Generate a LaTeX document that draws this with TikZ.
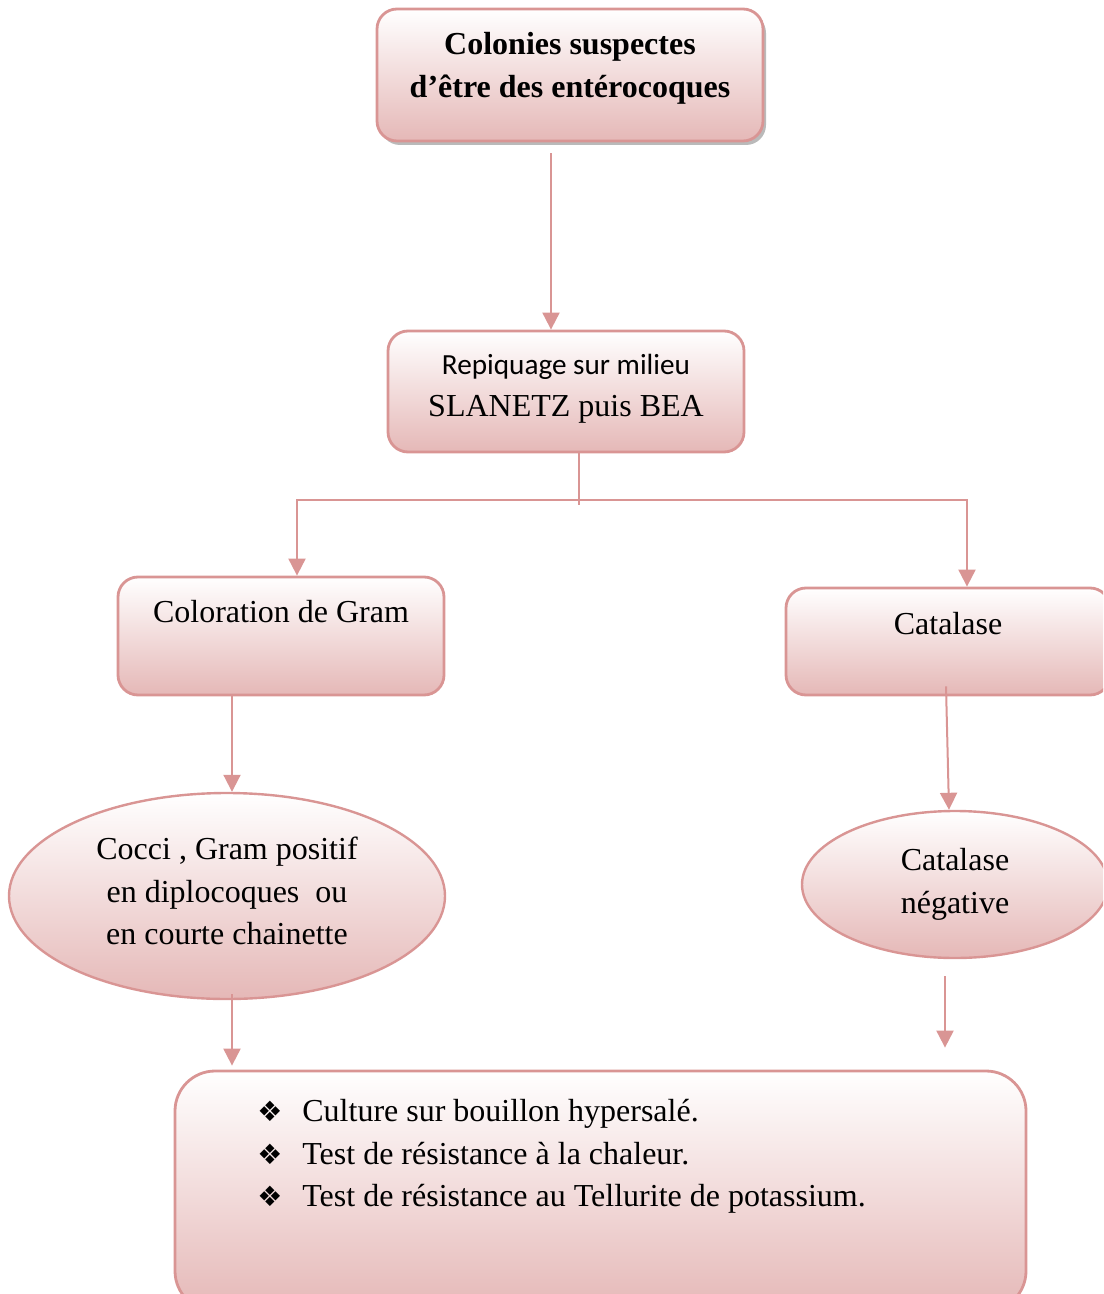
\documentclass[tikz,border=0pt]{standalone}
\usepackage{fontspec}
\setmainfont{Liberation Serif}
\newfontfamily\carlito{Carlito}
\newfontfamily\symfont{DejaVu Sans}
\usepackage{tikz}
\usetikzlibrary{calc}
\usetikzlibrary{arrows.meta}
\usetikzlibrary{shapes.geometric}
\usetikzlibrary{shadows}
\usetikzlibrary{positioning}
\definecolor{rosedraw}{HTML}{D99594}
\definecolor{rosefill}{HTML}{E5B8B7}
\newcommand{\puce}{\makebox[22.5pt][l]{\symfont\fontsize{14}{14}\selectfont ❖}}

\begin{document}
\begin{tikzpicture}[x=0.5pt,y=-0.5pt]
  % some styles
  \tikzset{
    stepbox/.style={
      rectangle,
      rounded corners=10pt,
      draw=rosedraw,
      line width=1.4pt,
      top color=white,
      bottom color=rosefill,
      inner sep=0pt
    }
  }
  \tikzset{stepoval/.style={ellipse,draw=rosedraw,line width=1.2pt,top color=white,bottom color=rosefill,inner sep=0pt,align=center,font=\fontsize{16}{21.25}\selectfont}}
  \tikzset{txt/.style={inner sep=0pt,align=center,font=\fontsize{16}{21.5}\selectfont}}
  \tikzset{link/.style={draw=rosedraw,line width=1pt,-{Triangle[length=8.5pt,width=8.5pt]}}}
  \tikzset{plain/.style={draw=rosedraw,line width=1pt}}

\useasboundingbox (0,0) rectangle (1103,1294);
\clip (0,0) rectangle (1103,1294);

% boxes
\node[stepbox, minimum width=193pt, minimum height=66pt,
      drop shadow={shadow xshift=1.5pt,shadow yshift=-2pt,fill=black!45,opacity=0.6}]
      (colonies) at (570,75) {};
\node[stepbox, minimum width=178pt, minimum height=60.5pt] (repiquage) at (566,391.5) {};
\node[stepbox, minimum width=163pt, minimum height=59pt] (gram) at (281,636) {};
\node[stepbox, minimum width=162pt, minimum height=53.5pt] (catalase) at (948,641.5) {};
\node[stepbox, rounded corners=20pt, minimum width=425.5pt, minimum height=120pt] (tests) at (600.5,1191) {};

% texts
\node[txt, font=\fontsize{16}{21.5}\selectfont\bfseries] (coloniestxt) at ([yshift=3.5pt]colonies.center)
  {Colonies suspectes\\d’être des entérocoques};
\node[txt, font=\fontsize{16}{21}\selectfont] (repiquagetxt) at ([yshift=1.5pt]repiquage.center)
  {{\carlito\fontsize{14.6}{21}\selectfont Repiquage sur milieu}\\SLANETZ puis BEA};
\node[txt, below=12pt of gram.north] (gramtxt) {Coloration de Gram};
\node[txt, below=12.5pt of catalase.north] (catalasetxt) {Catalase};
\node[txt, align=left, anchor=north west, font=\fontsize{16}{21.25}\selectfont] (teststxt) at (257,1099)
  {\puce Culture sur bouillon hypersalé.\\
   \puce Test de résistance à la chaleur.\\
   \puce Test de résistance au Tellurite de potassium.};

% ovals
\node[stepoval, minimum width=218pt, minimum height=103pt] (cocci) at (227,896)
  {Cocci , Gram positif\\en diplocoques~ ou\\en courte chainette\rule[-5pt]{0pt}{0pt}};
\node[stepoval, minimum width=153pt, minimum height=73.5pt] (negative) at (955,884.5)
  {Catalase\\négative};

% connectors
\coordinate (fork) at (579,500);
\draw[link] ([xshift=-9.5pt,yshift=-5.5pt]colonies.south) -- ([xshift=-9.5pt]colonies.south |- repiquage.north);
\draw[plain] ([xshift=6.5pt]repiquage.south) -- ([yshift=-2.5pt]fork);
\draw[link] (fork) -| ([xshift=8pt]gram.north);
\draw[link] (fork) -| ([xshift=9.5pt]catalase.north);
\draw[link] ([xshift=-24.5pt]gram.south) -- ([xshift=-24.5pt]gram.south |- cocci.north);
\draw[link] ([xshift=-1pt,yshift=5pt]catalase.south) -- ([xshift=-3pt]negative.north);
\draw[link] ([xshift=2.5pt,yshift=3pt]cocci.south) -- ([xshift=2.5pt,yshift=2pt]cocci.south |- tests.north);
\coordinate (negend) at ([xshift=-5pt,yshift=11pt]negative.south |- tests.north);
\draw[link] ([xshift=-5pt,yshift=-8.5pt]negative.south) -- (negend);

\end{tikzpicture}
\end{document}
